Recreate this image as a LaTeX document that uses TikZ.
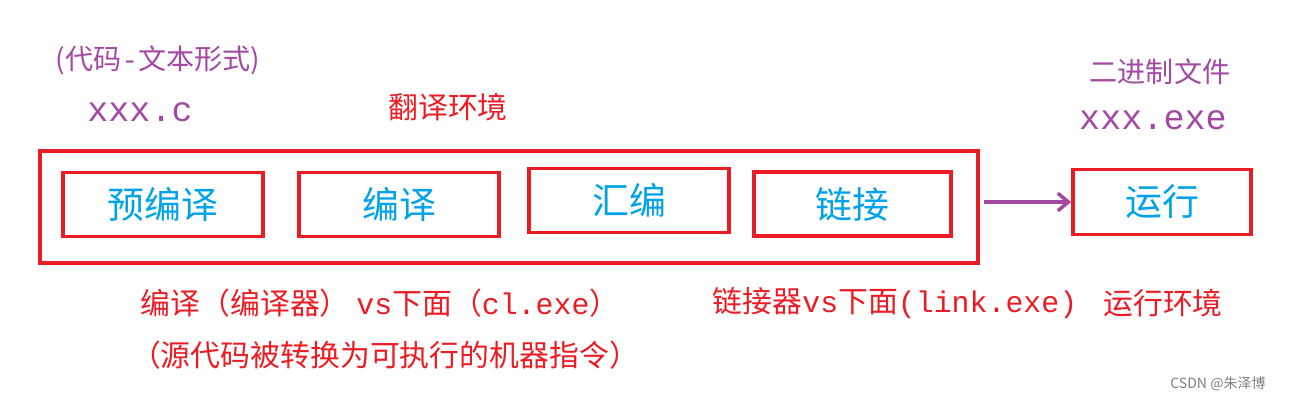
\documentclass[tikz,border=0pt]{standalone}
\usepackage{fontspec}
\setmainfont{Noto Sans CJK SC}
\newfontfamily\monofont{Liberation Mono}
\usetikzlibrary{positioning,arrows.meta}
\definecolor{boxred}{RGB}{236,28,36}
\definecolor{stepblue}{RGB}{0,162,232}
\definecolor{notepurple}{RGB}{163,73,164}
\newcommand{\lat}[1]{{\monofont #1}}
\begin{document}
\begin{tikzpicture}[x=0.02cm,y=-0.02cm,
    stage/.style={draw=boxred, line width=2.2pt, minimum width=4cm, minimum height=1.28cm, inner sep=0pt, font=\fontsize{21}{21}\selectfont, text=stepblue},
    redlabel/.style={font=\fontsize{17}{17}\selectfont, text=boxred},
    purplelabel/.style={font=\fontsize{16}{16}\selectfont, text=notepurple},
    codelabel/.style={font=\monofont\fontsize{20}{20}\selectfont, text=notepurple},
    arrow/.style={-{Straight Barb[length=6pt,width=10pt]}, line width=2pt, notepurple}
]
\useasboundingbox (0,0) rectangle (1301,404);

% Translation environment
\node[draw=boxred, line width=2.2pt, minimum width=18.76cm, minimum height=2.24cm] (trans) at (509,207) {};
\node[stage] (pre) at (163,204.5) {预编译};
\node[stage] (comp) at (399,204.5) {编译};
\node[stage] (asm) at (629,200.5) {汇编};
\node[stage, minimum width=3.94cm] (link) at (852.5,204) {链接};

% Run environment
\node[stage, minimum width=3.56cm, minimum height=1.3cm] (run) at (1162,202) {运行};
\draw[arrow] (trans.east |- run) ++(4,0) -- (run.west);

% Labels
\node[purplelabel] (src) at (158,60) {(代码\lat{-}文本形式)};
\node[codelabel] (srcfile) at (140,112) {xxx.c};
\node[redlabel] (env) at (448,107) {翻译环境};
\node[purplelabel] (bin) at (1160,72) {二进制文件};
\node[codelabel] (binfile) at (1153,120) {xxx.exe};
\node[redlabel] (ccl) at (380,303) {编译（编译器） \lat{vs}下面（\lat{cl.exe}）};
\node[redlabel] (note) at (385,355) {（源代码被转换为可执行的机器指令）};
\node[redlabel] (lnk) at (895,303) {链接器\lat{vs}下面\lat{(link.exe)}};
\node[redlabel] (runenv) at (1163,303) {运行环境};
\node[font=\fontsize{8}{8}\selectfont, text=gray] (mark) at (1218,384) {CSDN @朱泽博};
\end{tikzpicture}
\end{document}
